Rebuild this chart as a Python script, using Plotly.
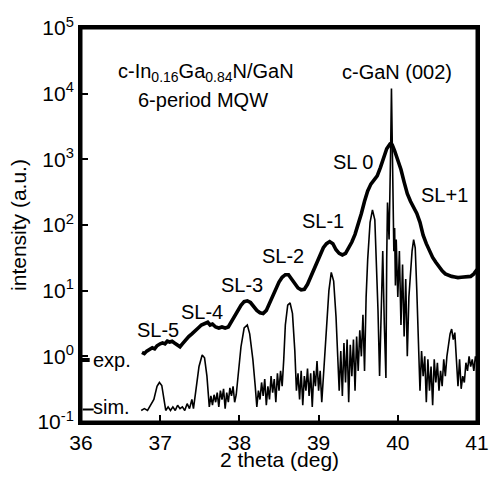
import plotly.graph_objects as go

# ---------------- data ----------------
exp_x = [36.77, 36.80, 36.83, 36.86, 36.90, 36.93, 36.96, 37.00, 37.03, 37.06, 37.09, 37.12,
         37.15, 37.18, 37.22, 37.25, 37.28, 37.32, 37.36, 37.40, 37.44, 37.48, 37.52, 37.56,
         37.60, 37.63, 37.66, 37.70, 37.74, 37.78, 37.82, 37.86, 37.90, 37.94, 37.98, 38.02,
         38.06, 38.10, 38.14, 38.18, 38.22, 38.26, 38.30, 38.34, 38.38, 38.42, 38.46, 38.50,
         38.54, 38.58, 38.62, 38.66, 38.70, 38.74, 38.78, 38.82, 38.86, 38.90, 38.94, 38.98,
         39.02, 39.06, 39.10, 39.14, 39.18, 39.22, 39.26, 39.30, 39.34, 39.38, 39.42, 39.46,
         39.50, 39.54, 39.58, 39.62, 39.66, 39.70, 39.74, 39.78, 39.82, 39.86, 39.90, 39.93,
         39.96, 40.00, 40.04, 40.08, 40.12, 40.16, 40.20, 40.24, 40.28, 40.32, 40.36, 40.40,
         40.44, 40.48, 40.52, 40.56, 40.60, 40.64, 40.68, 40.72, 40.76, 40.80, 40.84, 40.88,
         40.92, 40.96, 41.00]
exp_y = [1.15, 1.10, 1.20, 1.25, 1.35, 1.30, 1.45, 1.55, 1.60, 1.55, 1.70, 1.65,
         1.70, 1.60, 1.45, 1.40, 1.55, 1.80, 2.0, 2.2, 2.4, 2.7, 3.0, 3.2,
         3.3, 3.0, 3.1, 2.8, 2.7, 2.8, 2.7, 2.8, 3.4, 4.2, 5.2, 6.0,
         6.8, 7.0, 6.6, 5.6, 5.0, 4.6, 4.5, 5.0, 6.5, 8.5, 11, 13.5,
         16, 17.5, 17.5, 15, 12.5, 11, 10.3, 10.5, 12.5, 16, 21, 28,
         36, 45, 52, 56, 52, 42, 37, 35, 37, 44, 55, 72,
         100, 150, 230, 330, 420, 480, 560, 750, 1050, 1450, 1700, 1650,
         1350, 1000, 700, 450, 300, 230, 190, 150, 110, 70, 52, 40,
         32, 27, 23, 20, 18, 17, 16.5, 16.2, 15.8, 16, 16.2, 16,
         16.5, 18, 21]

sim_x = [36.76, 36.80, 36.84, 36.88, 36.92, 36.96, 36.99, 37.02, 37.05, 37.07, 37.10, 37.13,
         37.16, 37.19, 37.22, 37.25, 37.28, 37.31, 37.34, 37.37, 37.40, 37.42, 37.45, 37.49,
         37.53, 37.56, 37.59, 37.62, 37.64, 37.66, 37.68, 37.70, 37.72, 37.74, 37.76, 37.78,
         37.80, 37.82, 37.84, 37.86, 37.88, 37.90, 37.92, 37.94, 37.96, 37.99, 38.02, 38.06,
         38.10, 38.13, 38.17, 38.20, 38.22, 38.24, 38.26, 38.28, 38.30, 38.32, 38.34, 38.36,
         38.38, 38.40, 38.42, 38.44, 38.46, 38.48, 38.50, 38.52, 38.54, 38.56, 38.58, 38.61,
         38.64, 38.67, 38.70, 38.72, 38.74, 38.76, 38.78, 38.80, 38.82, 38.84, 38.86, 38.88,
         38.90, 38.92, 38.94, 38.96, 38.98, 39.00, 39.02, 39.04, 39.06, 39.08, 39.10, 39.13,
         39.16, 39.19, 39.22, 39.24, 39.26, 39.28, 39.30, 39.32, 39.34, 39.36, 39.38, 39.40,
         39.42, 39.44, 39.46, 39.48, 39.50, 39.52, 39.54, 39.56, 39.58, 39.60, 39.62, 39.65,
         39.68, 39.71, 39.73, 39.75, 39.77, 39.79, 39.81, 39.83, 39.85, 39.86, 39.87, 39.89,
         39.90, 39.91, 39.92, 39.93, 39.94, 39.95, 39.96, 39.97, 39.98, 40.00, 40.02, 40.04,
         40.06, 40.08, 40.10, 40.12, 40.14, 40.16, 40.18, 40.20, 40.22, 40.24, 40.26, 40.28,
         40.30, 40.32, 40.34, 40.36, 40.38, 40.40, 40.42, 40.44, 40.46, 40.48, 40.50, 40.52,
         40.54, 40.56, 40.58, 40.60, 40.62, 40.64, 40.66, 40.68, 40.70, 40.72, 40.74, 40.76,
         40.78, 40.80, 40.82, 40.84, 40.86, 40.88, 40.90, 40.92, 40.94, 40.96, 40.98, 41.00]
sim_y = [0.15, 0.16, 0.15, 0.18, 0.22, 0.35, 0.40, 0.36, 0.22, 0.15, 0.17, 0.15,
         0.17, 0.15, 0.18, 0.16, 0.17, 0.15, 0.19, 0.16, 0.22, 0.16, 0.30, 0.70,
         1.05, 0.95, 0.50, 0.17, 0.25, 0.18, 0.26, 0.20, 0.28, 0.17, 0.30, 0.22,
         0.32, 0.16, 0.28, 0.20, 0.33, 0.25, 0.35, 0.20, 0.26, 0.60, 1.4, 2.7,
         3.0, 2.2, 0.9, 0.35, 0.17, 0.30, 0.22, 0.40, 0.25, 0.45, 0.18, 0.35,
         0.22, 0.50, 0.28, 0.45, 0.20, 0.55, 0.30, 0.60, 0.35, 0.9, 3.0, 6.0,
         6.5, 4.5, 1.2, 0.30, 0.55, 0.22, 0.60, 0.18, 0.50, 0.30, 0.65, 0.25,
         0.55, 0.17, 0.60, 0.35, 0.85, 0.30, 0.60, 0.20, 0.50, 0.9, 2.5, 10,
         19, 14, 4, 0.8, 0.3, 1.2, 0.25, 1.6, 0.4, 1.8, 0.2, 1.5,
         0.5, 1.8, 0.3, 2.0, 0.6, 2.5, 1.0, 4.3, 0.6, 8, 30, 110,
         170, 120, 30, 5, 0.5, 8, 40, 3, 0.47, 30, 220, 60,
         220, 1500, 12000, 1500, 150, 40, 90, 12, 60, 8, 40, 3,
         25, 2, 15, 1.0, 8, 20, 40, 60, 45, 10, 1.5, 0.3,
         1.2, 0.5, 1.0, 0.2, 0.9, 0.3, 0.7, 0.18, 0.9, 0.4, 0.8, 0.3,
         0.6, 0.35, 0.9, 0.5, 1.0, 1.4, 2.2, 2.6, 1.8, 2.3, 1.0, 0.35,
         0.9, 0.32, 0.5, 0.4, 0.8, 0.6, 1.0, 0.7, 0.9, 0.6, 1.0, 0.8]

exp_key_x = [36.0, 36.11]
exp_key_y = [0.88, 0.88]
sim_key_x = [36.02, 36.16]
sim_key_y = [0.155, 0.155]

x_range = [36, 41]
y_log_range = [-1, 5]
x_ticks = [36, 37, 38, 39, 40, 41]
x_labels = ["36", "37", "38", "39", "40", "41"]
y_ticks = [0.1, 1, 10, 100, 1000, 10000, 100000]
y_labels = ["10<sup>-1</sup>", "10<sup>0</sup>", "10<sup>1</sup>", "10<sup>2</sup>",
            "10<sup>3</sup>", "10<sup>4</sup>", "10<sup>5</sup>"]

FONT = "Liberation Sans"

fig = go.Figure()
fig.add_trace(go.Scatter(x=sim_x, y=sim_y, mode="lines",
                         line=dict(color="black", width=1.6), showlegend=False))
fig.add_trace(go.Scatter(x=exp_x, y=exp_y, mode="lines",
                         line=dict(color="black", width=3.6), showlegend=False))
fig.add_trace(go.Scatter(x=exp_key_x, y=exp_key_y, mode="lines",
                         line=dict(color="black", width=4), showlegend=False))
fig.add_trace(go.Scatter(x=sim_key_x, y=sim_key_y, mode="lines",
                         line=dict(color="black", width=2), showlegend=False))

annots = [
    ("c-In<sub>0.16</sub>Ga<sub>0.84</sub>N/GaN", 0.316, 0.888),
    ("6-period MQW", 0.308, 0.817),
    ("c-GaN (002)", 0.797, 0.888),
    ("SL 0", 0.687, 0.660),
    ("SL+1", 0.917, 0.576),
    ("SL-1", 0.612, 0.510),
    ("SL-2", 0.511, 0.421),
    ("SL-3", 0.406, 0.348),
    ("SL-4", 0.306, 0.279),
    ("SL-5", 0.195, 0.234),
    ("exp.", 0.078, 0.157),
    ("sim.", 0.078, 0.038),
]
for txt, ax_, ay_ in annots:
    fig.add_annotation(text=txt, x=ax_, y=ay_, xref="paper", yref="paper",
                       showarrow=False, xanchor="center", yanchor="middle",
                       font=dict(family=FONT, size=20, color="black"))

# x-axis title placed just below the tick labels
fig.add_annotation(text="2 theta (deg)", x=0.5, y=-0.094, xref="paper", yref="paper",
                   showarrow=False, xanchor="center", yanchor="middle",
                   font=dict(family=FONT, size=21, color="black"))

fig.add_shape(type="rect", xref="paper", yref="paper", x0=0, y0=0, x1=1, y1=1,
              line=dict(color="black", width=3), layer="above")

axis_common = dict(ticks="inside", ticklen=7, tickwidth=2, tickcolor="black",
                   showline=True, linewidth=3, linecolor="black", mirror=True,
                   showgrid=False, zeroline=False)

fig.update_layout(
    width=490, height=478,
    margin=dict(l=81, r=10, t=28, b=56),
    paper_bgcolor="white", plot_bgcolor="white",
    font=dict(family=FONT, color="black", size=20),
    xaxis=dict(range=x_range, tickvals=x_ticks, ticktext=x_labels, automargin=False,
               ticklabeloverflow="allow", tickfont=dict(size=21), **axis_common),
    yaxis=dict(type="log", range=y_log_range, tickvals=y_ticks, ticktext=y_labels,
               title=dict(text="intensity (a.u.)", font=dict(size=21), standoff=6),
               tickfont=dict(size=21), **axis_common),
    xaxis2=dict(range=x_range, tickvals=x_ticks, overlaying="x", side="top",
                showticklabels=False, ticks="inside", ticklen=7, tickwidth=2,
                tickcolor="black", showgrid=False, zeroline=False),
    yaxis2=dict(type="log", range=y_log_range, tickvals=y_ticks, overlaying="y",
                side="right", showticklabels=False, ticks="inside", ticklen=7,
                tickwidth=2, tickcolor="black", showgrid=False, zeroline=False),
)

post = (
    "document.body.style.margin='0';"
    "var gd=document.getElementById('{plot_id}');"
    "Plotly.relayout(gd, {'xaxis.linewidth': 3, 'yaxis.linewidth': 3});"
)
fig.write_html("out.html", config={"displayModeBar": False}, post_script=post)
